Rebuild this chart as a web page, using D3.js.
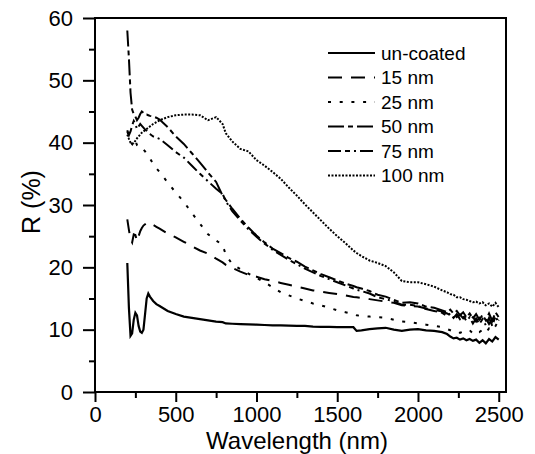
<!DOCTYPE html>
<html>
<head>
<meta charset="utf-8">
<script src="https://cdn.jsdelivr.net/npm/d3@7"></script>
<style>
  body { margin: 0; background: #fff; }
  svg text { font-family: "Liberation Sans", Arial, sans-serif; fill: #000; }
</style>
</head>
<body>
<div class="chart"></div>
<script>
// Reflectance spectra
var wavelength = [200, 210, 220, 230, 240, 250, 260, 270, 280, 290, 300, 310, 320, 330, 340, 360, 380, 400,
  450, 500, 550, 600, 650, 700, 750, 790, 810, 850, 900, 950, 1000, 1050, 1100, 1150, 1200, 1250, 1300,
  1350, 1400, 1450, 1500, 1550, 1600, 1620, 1650, 1700, 1750, 1800, 1850, 1900, 1950, 2000, 2050, 2100,
  2150, 2180, 2200, 2220, 2240, 2260, 2280, 2300, 2320, 2340, 2360, 2380, 2400, 2420, 2440, 2460, 2480, 2500];

var uncoated = [20.7, 13.5, 9.0, 9.4, 11.6, 12.7, 12.3, 10.6, 9.7, 9.5, 10.0, 12.5, 15.0, 15.8, 15.3, 14.6, 14.1, 13.8,
  13.0, 12.5, 12.1, 11.9, 11.7, 11.5, 11.3, 11.2, 11.0, 10.95, 10.9, 10.85, 10.8, 10.75, 10.7, 10.7, 10.65, 10.6, 10.6,
  10.5, 10.45, 10.45, 10.4, 10.4, 10.4, 9.8, 9.9, 10.1, 10.2, 10.3, 10.0, 9.8, 10.0, 10.1, 9.9, 9.8,
  9.6, 9.3, 8.9, 8.6, 8.7, 8.4, 8.6, 8.3, 8.5, 8.2, 8.4, 7.9, 8.3, 7.8, 8.5, 8.1, 8.8, 8.4];

var nm15 = [27.7, 26.0, 24.5, 24.0, 25.3, 25.2, 24.2, 25.0, 25.8, 26.3, 26.7, 26.9, 27.1, 27.2, 27.0, 26.8, 26.5, 26.2,
  25.4, 24.8, 24.1, 23.4, 22.7, 22.2, 21.4, 20.8, 20.4, 19.9, 19.3, 18.8, 18.5, 18.1, 17.8, 17.5, 17.2, 16.9, 16.6,
  16.3, 16.1, 15.9, 15.7, 15.5, 15.25, 15.2, 15.1, 14.9, 14.7, 14.5, 14.3, 13.9, 13.8, 13.7, 13.4, 13.2,
  12.9, 12.6, 12.3, 12.7, 12.0, 12.4, 11.8, 12.2, 11.5, 12.0, 11.3, 11.9, 11.2, 11.8, 10.9, 11.7, 10.8, 11.6];

var nm25 = [41.8, 41.0, 40.2, 39.8, 40.6, 40.3, 39.6, 39.4, 39.5, 39.3, 38.9, 38.6, 38.2, 37.9, 37.5, 36.6, 35.9, 35.3,
  33.6, 32.0, 30.5, 28.7, 27.0, 25.3, 24.3, 23.6, 22.0, 20.5, 19.7, 19.0, 18.3, 17.6, 16.8, 16.0, 15.5, 15.0, 14.6,
  14.2, 13.9, 13.5, 13.1, 12.8, 12.5, 12.3, 12.2, 12.1, 12.0, 11.9, 11.6, 11.3, 11.2, 11.0, 10.8, 10.6,
  10.4, 10.1, 9.9, 9.7, 9.8, 9.5, 9.7, 9.6, 9.9, 9.4, 9.8, 9.6, 10.0, 9.5, 10.2, 9.8, 10.6, 11.5];

var nm50 = [58.0, 53.5, 48.0, 45.3, 44.6, 44.2, 43.6, 44.0, 44.6, 45.0, 44.8, 44.5, 44.5, 44.4, 44.3, 44.2, 44.0, 43.7,
  42.5, 41.0, 39.8, 38.3, 36.8, 35.2, 33.7, 31.5, 30.8, 29.4, 27.8, 26.4, 25.1, 24.0, 23.0, 22.3, 21.5, 20.9, 20.1,
  19.5, 18.9, 18.4, 17.9, 17.4, 17.0, 16.8, 16.6, 16.2, 15.6, 15.3, 14.8, 14.3, 14.4, 14.2, 13.7, 13.5,
  13.1, 12.8, 13.2, 12.6, 13.0, 12.3, 12.8, 12.0, 12.6, 11.8, 12.5, 11.6, 12.4, 11.5, 12.6, 11.4, 12.8, 12.0];

var nm75 = [42.0, 41.2, 41.8, 42.8, 43.5, 43.0, 42.2, 42.6, 43.0, 42.7, 42.4, 42.1, 41.9, 41.6, 41.4, 41.0, 40.8, 40.6,
  39.6, 38.5, 37.6, 36.3, 35.0, 33.8, 32.6, 31.8, 30.6, 29.0, 27.5, 26.1, 24.9, 23.8, 22.8, 22.0, 21.2, 20.5, 19.8,
  19.2, 18.6, 18.1, 17.6, 17.1, 16.6, 16.4, 16.2, 15.8, 15.2, 14.9, 14.5, 14.0, 14.0, 13.8, 13.3, 13.0,
  12.7, 12.2, 12.6, 11.9, 12.5, 11.7, 12.2, 11.4, 12.0, 11.0, 11.8, 10.9, 11.7, 10.7, 11.9, 10.6, 12.2, 11.0];

var nm100 = [41.3, 40.6, 40.0, 39.8, 39.9, 40.3, 40.7, 41.0, 41.3, 41.6, 41.8, 42.0, 42.2, 42.4, 42.6, 43.0, 43.3, 43.6,
  44.1, 44.4, 44.5, 44.5, 44.4, 43.6, 44.1, 43.0, 41.5, 40.2, 39.0, 38.6, 37.2, 36.3, 35.3, 34.2, 32.8, 31.5, 30.1,
  28.8, 27.5, 26.2, 25.0, 23.9, 22.7, 22.3, 21.8, 21.1, 20.7, 20.2, 19.2, 17.8, 17.6, 17.6, 17.3, 16.9,
  16.3, 16.0, 15.7, 15.6, 15.2, 15.2, 14.9, 14.8, 14.6, 14.4, 14.5, 14.2, 14.4, 13.9, 14.2, 13.7, 14.3, 13.6];

var seriesLabels = ["un-coated", "15 nm", "25 nm", "50 nm", "75 nm", "100 nm"];
var seriesDash = ["none", "14,9", "3,8.7", "16,4,5,4", "13,4,5,4,2,4", "2,1.5"];

var xTicks = [0, 500, 1000, 1500, 2000, 2500];
var xMinor = [250, 750, 1250, 1750, 2250];
var yTicks = [0, 10, 20, 30, 40, 50, 60];
var yMinor = [5, 15, 25, 35, 45, 55];

var svgWidth = 535;
var svgHeight = 454;

var margin = { top: 18, right: 29, bottom: 62, left: 95 };
var width = svgWidth - margin.left - margin.right;
var height = svgHeight - margin.top - margin.bottom;

var svg = d3.select(".chart")
  .append("svg")
  .attr("width", svgWidth)
  .attr("height", svgHeight);

var chartGroup = svg.append("g")
  .attr("transform", `translate(${margin.left}, ${margin.top})`);

var xScale = d3.scaleLinear().domain([0, 2545]).range([0, width]);
var yScale = d3.scaleLinear().domain([0, 60]).range([height, 0]);

// axes: major + minor ticks
function styleAxis(g) {
  g.select(".domain").remove();
  g.selectAll("line").attr("stroke", "#000").attr("stroke-width", 2);
}

chartGroup.append("g")
  .attr("transform", `translate(0, ${height})`)
  .call(d3.axisBottom(xScale).tickValues(xTicks).tickSize(10).tickPadding(4).tickFormat(d3.format("d")))
  .call(styleAxis)
  .selectAll("text").style("font-size", "22px");

chartGroup.append("g")
  .attr("transform", `translate(0, ${height})`)
  .call(d3.axisBottom(xScale).tickValues(xMinor).tickSize(6).tickFormat(""))
  .call(styleAxis);

chartGroup.append("g")
  .call(d3.axisLeft(yScale).tickValues(yTicks).tickSize(12).tickPadding(10))
  .call(styleAxis)
  .selectAll("text").style("font-size", "22px");

chartGroup.append("g")
  .call(d3.axisLeft(yScale).tickValues(yMinor).tickSize(6).tickFormat(""))
  .call(styleAxis);

// frame
chartGroup.append("rect")
  .attr("x", 0).attr("y", 0)
  .attr("width", width).attr("height", height)
  .attr("fill", "none")
  .attr("stroke", "#000")
  .attr("stroke-width", 2);

// series
var allSeries = [uncoated, nm15, nm25, nm50, nm75, nm100];

var line = d3.line()
  .x((d, i) => xScale(wavelength[i]))
  .y(d => yScale(d));

chartGroup.selectAll("path.series")
  .data(allSeries)
  .enter()
  .append("path")
  .attr("class", "series")
  .attr("d", d => line(d))
  .attr("fill", "none")
  .attr("stroke", "#000")
  .attr("stroke-width", (d, i) => i === 0 ? 2.2 : 2)
  .attr("stroke-dasharray", (d, i) => seriesDash[i]);

// legend
var legend = svg.append("g").attr("transform", "translate(328, 53)");

var legendRows = legend.selectAll("g")
  .data(seriesLabels)
  .enter()
  .append("g")
  .attr("transform", (d, i) => `translate(0, ${i * 24.5})`);

legendRows.append("line")
  .attr("x1", 0).attr("x2", 47)
  .attr("y1", 0).attr("y2", 0)
  .attr("stroke", "#000")
  .attr("stroke-width", 2)
  .attr("stroke-dasharray", (d, i) => seriesDash[i]);

legendRows.append("text")
  .attr("x", 53)
  .attr("y", 6.7)
  .style("font-size", "19px")
  .text(d => d);

// axis titles
svg.append("text")
  .attr("x", 297)
  .attr("y", 448.5)
  .attr("text-anchor", "middle")
  .style("font-size", "24px")
  .text("Wavelength (nm)");

svg.append("text")
  .attr("transform", "translate(40, 202) rotate(-90)")
  .attr("text-anchor", "middle")
  .style("font-size", "25px")
  .text("R (%)");
</script>
</body>
</html>
